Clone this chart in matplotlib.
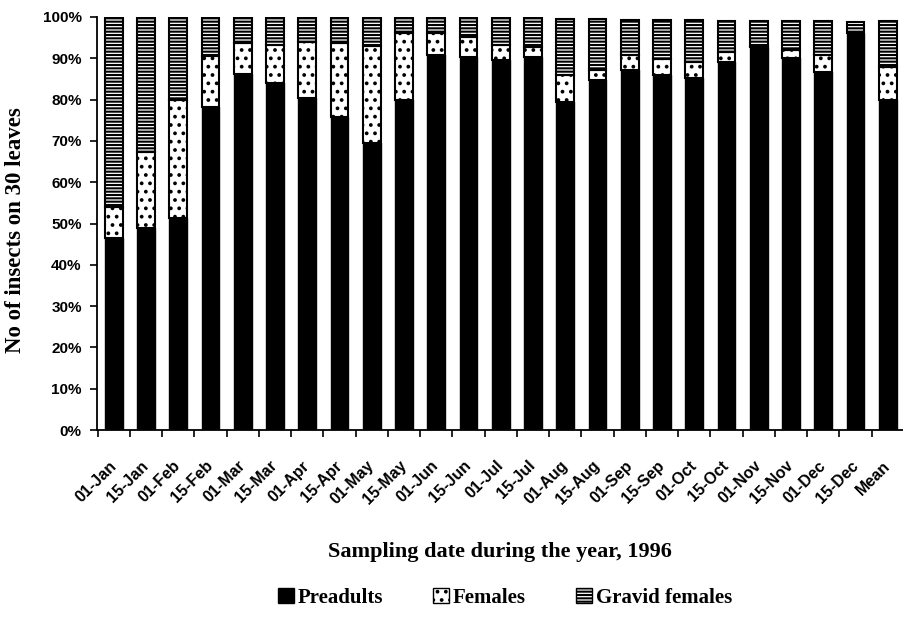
import matplotlib
matplotlib.use("Agg")
import matplotlib.pyplot as plt
import numpy as np
from matplotlib.patches import Patch

categories = ["01-Jan", "15-Jan", "01-Feb", "15-Feb", "01-Mar", "15-Mar", "01-Apr",
              "15-Apr", "01-May", "15-May", "01-Jun", "15-Jun", "01-Jul", "15-Jul",
              "01-Aug", "15-Aug", "01-Sep", "15-Sep", "01-Oct", "15-Oct", "01-Nov",
              "15-Nov", "01-Dec", "15-Dec", "Mean"]
preadults = [46.5, 48.9, 51.3, 78.2, 86.2, 84.0, 80.4, 75.8, 69.5, 79.9, 90.8, 90.3, 89.6,
             90.3, 79.4, 84.7, 87.2, 86.0, 85.2, 89.1, 92.7, 90.0, 86.7, 96.1, 79.9]
females = [7.5, 18.4, 28.6, 12.4, 7.5, 9.2, 13.5, 17.9, 23.5, 16.2, 5.3, 4.9, 3.6,
           2.4, 6.6, 2.5, 3.6, 3.8, 3.9, 2.4, 0.3, 2.0, 4.1, 0.0, 8.0]
gravid = [46.0, 32.7, 20.1, 9.4, 6.3, 6.8, 6.1, 6.3, 7.0, 3.9, 3.7, 4.6, 6.6,
          7.1, 13.5, 12.3, 8.5, 9.5, 10.2, 7.5, 6.0, 7.0, 8.2, 2.7, 11.1]
ytick_labels = ["0%", "10%", "20%", "30%", "40%", "50%", "60%", "70%", "80%", "90%", "100%"]

plt.rcParams['hatch.linewidth'] = 1.5
W, H = 904, 622
fig = plt.figure(figsize=(W / 100, H / 100), dpi=100)
ax = fig.add_axes([97 / W, 1 - 430 / H, (904 - 97) / W, (430 - 17) / H])

x = np.arange(len(categories))
pre = np.array(preadults)
fem = np.array(females)
grv = np.array(gravid)
bw = 0.55
ax.bar(x, pre, bw, color="black", edgecolor="black", linewidth=1.0, label="Preadults")
ax.bar(x, fem, bw, bottom=pre, color="white", edgecolor="black", linewidth=1.5,
       hatch="..", label="Females")
ax.bar(x, grv, bw, bottom=pre + fem, color="white", edgecolor="black", linewidth=1.5,
       hatch="-----", label="Gravid females")

ax.set_xlim(-0.52, 24.28)
ax.set_ylim(0, 100)
ax.set_yticks(np.arange(0, 101, 10))
ax.set_yticklabels(ytick_labels, fontfamily="Liberation Sans", fontweight="bold", fontsize=11)
ax.tick_params(axis="y", direction="out", length=5, width=1.2, pad=6)

ax.set_xticks(x)
ax.set_xticks(np.arange(-0.5, 25, 1), minor=True)
ax.tick_params(axis="x", which="major", length=0, pad=24)
ax.tick_params(axis="x", which="minor", direction="out", length=5, width=1.2)
ax.set_xticklabels(categories, rotation=45, ha="right", va="center", rotation_mode="anchor",
                   fontfamily="Liberation Sans", fontweight="bold", fontsize=11.5)

for s in ["top", "right"]:
    ax.spines[s].set_visible(False)
ax.spines["left"].set_linewidth(1.3)
ax.spines["bottom"].set_linewidth(1.3)

fig.text(500 / W, 1 - 552 / H, "Sampling date during the year, 1996", ha="center", va="center",
         fontfamily="Liberation Serif", fontweight="bold", fontsize=16)
fig.text(16 / W, 1 - 230 / H, "No of insects on 30 leaves", ha="center", va="center",
         rotation=90, fontfamily="Liberation Serif", fontweight="bold", fontsize=16.5)

handles = [Patch(facecolor="black", edgecolor="black", label="Preadults"),
           Patch(facecolor="white", edgecolor="black", hatch="..", label="Females"),
           Patch(facecolor="white", edgecolor="black", hatch="-----", label="Gravid females")]
fig.legend(handles=handles, loc="center", bbox_to_anchor=(505 / W, 1 - 598 / H), ncol=3,
           frameon=False, handlelength=0.75, handleheight=0.75, handletextpad=0.2,
           columnspacing=2.4, prop={"family": "Liberation Serif", "weight": "bold", "size": 15})

fig.savefig("out.png", dpi=100)
